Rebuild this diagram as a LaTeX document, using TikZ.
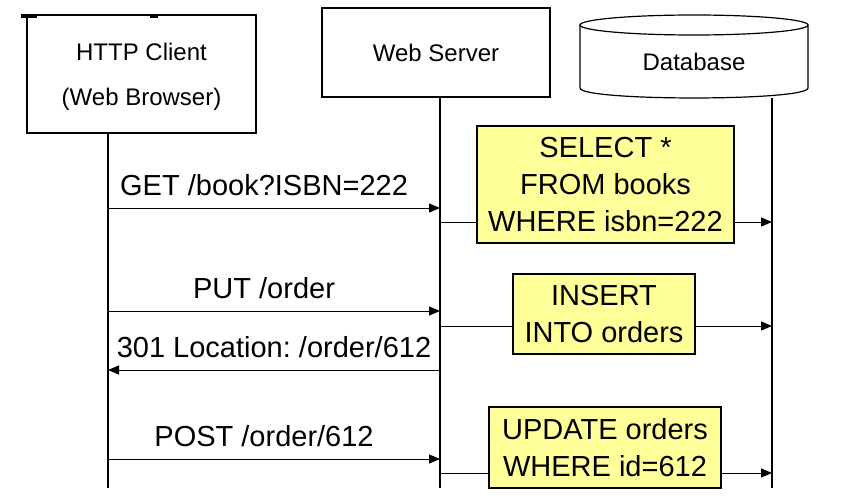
\documentclass[tikz,border=0pt]{standalone}
\usepackage{fontspec}
\setmainfont{Liberation Sans}
\usetikzlibrary{arrows.meta}
\frenchspacing

\definecolor{queryfill}{RGB}{255,255,153}

\tikzset{
	actor/.style={draw, line width=1.2pt, align=center, inner sep=0pt,
	              font=\fontsize{24}{45}\selectfont},
	query/.style={draw, fill=queryfill, line width=1.2pt, align=center,
	              inner sep=0pt, font=\fontsize{29}{37}\selectfont},
	lifeline/.style={line width=1.2pt},
	msg/.style={line width=1pt, -{Triangle[length=11pt,width=9pt]}},
	msglabel/.style={anchor=base, yshift=12.5pt, inner sep=0pt,
	                 font=\fontsize{29}{35}\selectfont}
}

\begin{document}
\begin{tikzpicture}[x=1pt, y=-1pt]
	\useasboundingbox (0,0) rectangle (842,500);

	% Participants
	\node (client) at (141.5,74)
	      [actor, minimum width=229pt, minimum height=118pt, text depth=0pt]
	      {HTTP Client\\(Web Browser)};
	\fill (21,14) rectangle (37,18);
	\fill (150,14) rectangle (158,18);

	\node (server) at (436,52.5)
	      [actor, minimum width=228pt, minimum height=89pt]
	      {Web Server};

	% Database cylinder
	\draw [line width=1.2pt] (694,25) ellipse [x radius=114, y radius=10];
	\draw [line width=1.2pt]
	      (580,25) -- (580,88)
	   .. controls (580,101.3) and (808,101.3) .. (808,88)
	   -- (808,25);
	\node (db) at (694,62) [font=\fontsize{24}{29}\selectfont] {Database};

	% Lifelines
	\foreach \name/\x/\ytop in {client/108/133, server/440/97, db/772/98}{
		\draw [lifeline] (\x,\ytop) coordinate (\name-top)
		   -- (\x,488) coordinate (\name-end);
	}

	% HTTP messages
	\foreach \y/\from/\dest/\txt/\p in {
		208/client/server/{GET /book?ISBN=222}/0.47,
		311/client/server/{PUT /order}/0.47,
		370/server/client/{301 Location: /order/612}/0.5,
		459/client/server/{POST /order/612}/0.47}{
		\draw [msg] (\from-top |- 0,\y)
		   -- node [msglabel, pos=\p] {\txt}
		      (\dest-top |- 0,\y);
	}

	% SQL statements
	\foreach \y in {222,326,473}{
		\draw [msg] (server-top |- 0,\y) -- (db-top |- 0,\y);
	}
	\node (select) at (605.5,184.5)
	      [query, minimum width=257pt, minimum height=117pt]
	      {SELECT *\\FROM books\\WHERE isbn=222};
	\node (insert) at (604,314)
	      [query, minimum width=182pt, minimum height=80pt]
	      {INSERT\\INTO orders};
	\node (update) at (605,447.5)
	      [query, minimum width=232pt, minimum height=81pt]
	      {UPDATE orders\\WHERE id=612};
\end{tikzpicture}
\end{document}
